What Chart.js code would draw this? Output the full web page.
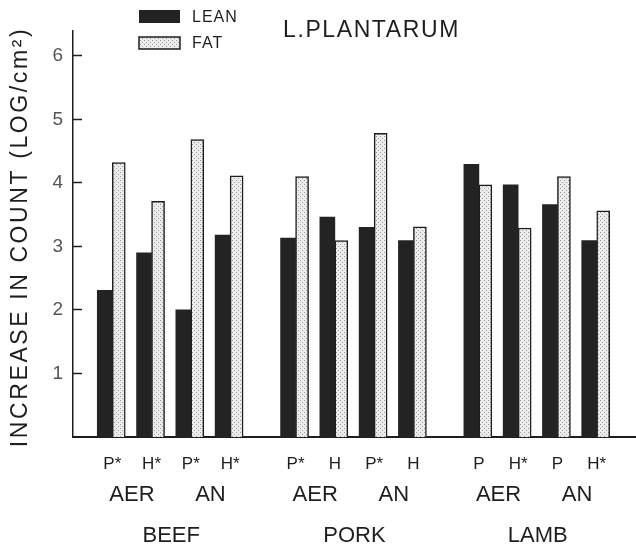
<!DOCTYPE html>
<html lang="en">
<head>
    <meta charset="UTF-8">
    <title>L.PLANTARUM - increase in count</title>
    <script src="https://cdn.jsdelivr.net/npm/chart.js"></script>
    <style>
        body { margin: 0; background: #fff; }
        #wrap { width: 636px; height: 547px; }
    </style>
</head>
<body>
    <div id="wrap"><canvas id="chart"></canvas></div>

    <script>
        // values (log/cm2), one per pair of bars, left to right
        const meats = ['BEEF', 'PORK', 'LAMB'];
        const atmospheres = ['AER', 'AN'];
        const packLabels = ['P*', 'H*', 'P*', 'H*', 'P*', 'H', 'P*', 'H', 'P', 'H*', 'P', 'H*'];
        const lean = [2.31, 2.90, 2.00, 3.18, 3.13, 3.46, 3.30, 3.09, 4.29, 3.97, 3.66, 3.09];
        const fat = [4.32, 3.71, 4.68, 4.11, 4.10, 3.09, 4.78, 3.31, 3.97, 3.29, 4.10, 3.56];
        const yTicks = [1, 2, 3, 4, 5, 6];

        const FONT = '"Liberation Sans", Arial, sans-serif';
        const INK = '#1e1e1e';

        // category slots: pairs 3 slots apart, meats 5 slots apart
        const lead = 3, pairStep = 3, meatGap = 5, slotCount = 44;
        const slotOf = j => lead + Math.floor(j / 4) * (3 * pairStep + meatGap) + (j % 4) * pairStep;

        const labels = new Array(slotCount).fill('');
        const leanData = new Array(slotCount).fill(null);
        const fatData = new Array(slotCount).fill(null);
        packLabels.forEach((l, j) => {
            labels[slotOf(j)] = l;
            leanData[slotOf(j)] = lean[j];
            fatData[slotOf(j)] = fat[j];
        });

        // dotted fill for the fat bars
        function dots() {
            const c = document.createElement('canvas');
            c.width = 4; c.height = 4;
            const g = c.getContext('2d');
            g.fillStyle = '#ececec';
            g.fillRect(0, 0, 4, 4);
            g.fillStyle = '#9c9c9c';
            g.fillRect(0, 0, 1, 1);
            g.fillRect(2, 2, 1, 1);
            return g.createPattern(c, 'repeat');
        }
        const fatFill = dots();

        const extras = {
            id: 'extras',
            afterDraw(chart) {
                const ctx = chart.ctx;
                const x = chart.scales.x;
                const area = chart.chartArea;
                ctx.save();
                ctx.fillStyle = INK;
                ctx.textAlign = 'center';
                ctx.textBaseline = 'middle';

                // atmosphere and meat rows under the pack labels
                ctx.font = '22px ' + FONT;
                meats.forEach((m, mi) => {
                    atmospheres.forEach((a, ai) => {
                        const j = mi * 4 + ai * 2;
                        const cx = (x.getPixelForValue(slotOf(j)) + x.getPixelForValue(slotOf(j + 1))) / 2;
                        ctx.fillText(a, cx, 495);
                    });
                    const cx = (x.getPixelForValue(slotOf(mi * 4)) + x.getPixelForValue(slotOf(mi * 4 + 3))) / 2;
                    ctx.fillText(m, cx, 536);
                });

                // legend
                const ds = chart.data.datasets;
                ctx.fillStyle = ds[0].backgroundColor;
                ctx.fillRect(139, 10, 41, 13);
                ctx.fillStyle = fatFill;
                ctx.fillRect(139, 37, 41, 12);
                ctx.strokeStyle = INK;
                ctx.lineWidth = 1.5;
                ctx.strokeRect(139, 37, 41, 12);
                ctx.fillStyle = INK;
                ctx.textAlign = 'left';
                ctx.font = '16px ' + FONT;
                ctx.letterSpacing = '1px';
                ctx.fillText(ds[0].label, 192, 18);
                ctx.fillText(ds[1].label, 192, 44);

                // organism name
                ctx.font = '23px ' + FONT;
                ctx.letterSpacing = '1.6px';
                ctx.fillText('L.PLANTARUM', 283, 31);

                // y axis title
                ctx.translate(21, 237);
                ctx.rotate(-Math.PI / 2);
                ctx.textAlign = 'center';
                ctx.font = '23px ' + FONT;
                ctx.letterSpacing = '2.6px';
                ctx.fillText('INCREASE IN COUNT (LOG/cm\u00B2)', 0, 0);
                ctx.restore();
            }
        };

        const ctx = document.getElementById('chart').getContext('2d');
        new Chart(ctx, {
            type: 'bar',
            data: {
                labels: labels,
                datasets: [{
                    label: 'LEAN',
                    data: leanData,
                    backgroundColor: '#232323',
                    barThickness: 15,
                    borderWidth: 0
                }, {
                    label: 'FAT',
                    data: fatData,
                    backgroundColor: fatFill,
                    borderColor: INK,
                    borderWidth: 1.5,
                    barThickness: 13
                }]
            },
            options: {
                responsive: true,
                maintainAspectRatio: false,
                animation: false,
                layout: { padding: { top: 10, left: 0, right: 0, bottom: 0 } },
                plugins: {
                    legend: { display: false },
                    tooltip: { enabled: false }
                },
                scales: {
                    x: {
                        offset: false,
                        grid: { display: false },
                        border: { color: INK, width: 2 },
                        ticks: {
                            autoSkip: false,
                            maxRotation: 0,
                            padding: 9,
                            color: INK,
                            font: { family: FONT, size: 17 }
                        },
                        afterFit(s) {
                            s.height = 110;
                            s.paddingLeft = 0;
                            s.paddingRight = 0;
                        }
                    },
                    y: {
                        min: 0,
                        max: 6.4,
                        afterBuildTicks(s) { s.ticks = yTicks.map(v => ({ value: v })); },
                        grid: {
                            drawOnChartArea: false,
                            tickLength: -9,
                            tickColor: INK,
                            tickWidth: 1.5
                        },
                        border: { color: INK, width: 1.5 },
                        ticks: {
                            padding: 19,
                            color: '#555',
                            font: { family: FONT, size: 19 }
                        },
                        afterFit(s) { s.width = 73; }
                    }
                }
            },
            plugins: [extras]
        });
    </script>
</body>
</html>
